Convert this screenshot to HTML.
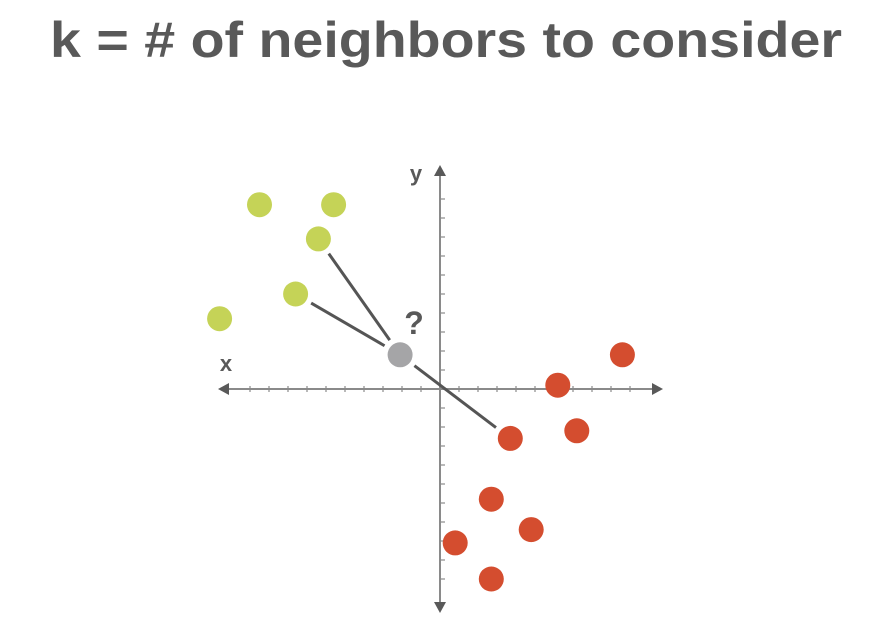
<!DOCTYPE html>
<html><head><meta charset="utf-8"><style>
body{margin:0;background:#fff;}
svg{display:block;font-family:"Liberation Sans",sans-serif;}
</style></head><body>
<svg width="882" height="628" viewBox="0 0 882 628" id="chart">
<text x="446" y="57" text-anchor="middle" font-size="50" font-weight="bold" fill="#595959" textLength="792" lengthAdjust="spacingAndGlyphs">k = # of neighbors to consider</text>
</svg>
<script>
const greenX=[-9.5,-5.6,-6.4,-7.6,-11.6];
const greenY=[9.7,9.7,7.9,5.0,3.7];
const redX=[9.6,6.2,7.2,3.7,2.7,4.8,0.8,2.7];
const redY=[1.8,0.2,-2.2,-2.6,-5.8,-7.4,-8.1,-10.0];
const queryX=[-2.1];
const queryY=[1.8];
const neighborGreen=[2,3];
const neighborRed=[3];
const ticks=[-10,-9,-8,-7,-6,-5,-4,-3,-2,-1,1,2,3,4,5,6,7,8,9,10];
const ox=440,oy=389,u=19;
const sx=v=>ox+v*u, sy=v=>oy-v*u;
const svg=document.getElementById('chart');
const NS='http://www.w3.org/2000/svg';
function mk(t,a){const e=document.createElementNS(NS,t);for(const k in a)e.setAttribute(k,a[k]);svg.appendChild(e);return e;}
let e;
e=mk('line',{x1:224,y1:oy,x2:656,y2:oy,stroke:'#8a8a8a','stroke-width':2});


e=mk('line',{x1:ox,y1:172,x2:ox,y2:606,stroke:'#8a8a8a','stroke-width':2});


e=mk('polygon',{points:'218,389 229,383 229,395',fill:'#595959'});


e=mk('polygon',{points:'663,389 652,383 652,395',fill:'#595959'});


e=mk('polygon',{points:'440,165 434,176 446,176',fill:'#595959'});


e=mk('polygon',{points:'440,613 434,602 446,602',fill:'#595959'});


ticks.forEach(t=>{
 e=mk('line',{x1:sx(t),y1:oy-3,x2:sx(t),y2:oy+3,stroke:'#8a8a8a','stroke-width':1.2});
 
 
 e=mk('line',{x1:ox,y1:sy(t),x2:ox+5,y2:sy(t),stroke:'#8a8a8a','stroke-width':1.2});
 
 
});
e=mk('text',{x:226,y:371,'font-size':22,'font-weight':'bold',fill:'#595959','text-anchor':'middle'});e.textContent='x';


e=mk('text',{x:416,y:181,'font-size':22,'font-weight':'bold',fill:'#595959','text-anchor':'middle'});e.textContent='y';


e=mk('text',{x:414,y:334,'font-size':32,'font-weight':'bold',fill:'#595959','text-anchor':'middle'});e.textContent='?';


function link(x1,y1,x2,y2){
 const dx=x2-x1,dy=y2-y1,L=Math.hypot(dx,dy),g=18;
 e=mk('line',{x1:x1+dx/L*g,y1:y1+dy/L*g,x2:x2-dx/L*g,y2:y2-dy/L*g,stroke:'#555','stroke-width':3});
 
 
}
const qx=sx(queryX[0]),qy=sy(queryY[0]);
neighborGreen.forEach(i=>link(sx(greenX[i]),sy(greenY[i]),qx,qy));
neighborRed.forEach(i=>link(qx,qy,sx(redX[i]),sy(redY[i])));
greenX.forEach((x,i)=>{e=mk('circle',{cx:sx(x),cy:sy(greenY[i]),r:12.5,fill:'#c5d357'});
 
 });
redX.forEach((x,i)=>{e=mk('circle',{cx:sx(x),cy:sy(redY[i]),r:12.5,fill:'#d44d2f'});
 
 });
e=mk('circle',{cx:qx,cy:qy,r:12.5,fill:'#a5a5a7'});


</script>
</body></html>
